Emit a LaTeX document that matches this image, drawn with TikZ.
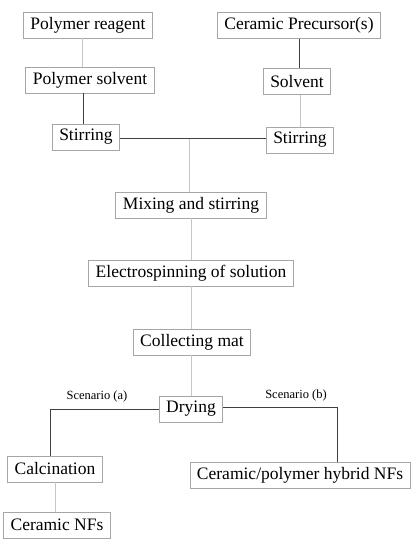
\documentclass[tikz,border=0pt]{standalone}
\usepackage{fontspec}
\setmainfont{Liberation Serif}
\usetikzlibrary{positioning}

\begin{document}
\begin{tikzpicture}[x=1pt,y=-1pt,
  box/.style={draw=gray!70,line width=0.9pt,fill=white,inner xsep=7pt,
    minimum height=26pt,font=\fontsize{17.5}{20}\selectfont},
  dark/.style={black!75,line width=1pt},
  pale/.style={gray!45,line width=1pt},
  scen/.style={font=\fontsize{12.5}{15}\selectfont}]
  \useasboundingbox (0,0) rectangle (412,550);
  \node[box] (pr) at (88,25) {Polymer reagent};
  \node[box] (cp) at (299,25.5) {Ceramic Precursor(s)};
  \node[box] (ps) at (90,80) {Polymer solvent};
  \node[box] (sv) at (297,81.5) {Solvent};
  \node[box] (sl) at (86,137) {Stirring};
  \node[box] (sr) at (300,140) {Stirring};
  \node[box] (mix) at (191,205) {Mixing and stirring};
  \node[box] (es) at (191,273) {Electrospinning of solution};
  \node[box] (col) at (192,342) {Collecting mat};
  \node[box] (dry) at (191,409) {Drying};
  \node[box] (calc) at (55,469) {Calcination};
  \node[box] (cnf) at (57,525) {Ceramic NFs};
  \node[box] (hyb) at (300,475) {Ceramic/polymer hybrid NFs};
  \node[scen] (sa) at (97,396) {Scenario (a)};
  \node[scen] (sb) at (296,395) {Scenario (b)};
  \coordinate (join) at (189,138.5);
  \coordinate (bturn) at (337,407.5);
  \draw[pale] ([xshift=-6pt]pr.south) -- ([xshift=-6pt]pr.south |- ps.north);
  \draw[dark] ([xshift=-7pt]ps.south) -- ([xshift=-7pt]ps.south |- sl.north);
  \draw[dark] (cp.south) -- (cp.south |- sv.north);
  \draw[pale] ([xshift=3pt]sv.south) -- ([xshift=3pt]sv.south |- sr.north);
  \draw[dark] (sl.east |- join) -- (sr.west |- join);
  \draw[pale] (join) -- (join |- mix.north);
  \draw[pale] (mix) -- (es);
  \draw[pale] (es.south) -- (es.south |- col.north);
  \draw[pale] (dry.north) -- (dry.north |- col.south);
  \draw[dark] (dry.west) -| ([xshift=-5pt]calc.north);
  \draw[dark] (dry.east |- bturn) -- (bturn) -- (bturn |- hyb.north);
  \draw[pale] (calc.south) -- (calc.south |- cnf.north);
\end{tikzpicture}
\end{document}
